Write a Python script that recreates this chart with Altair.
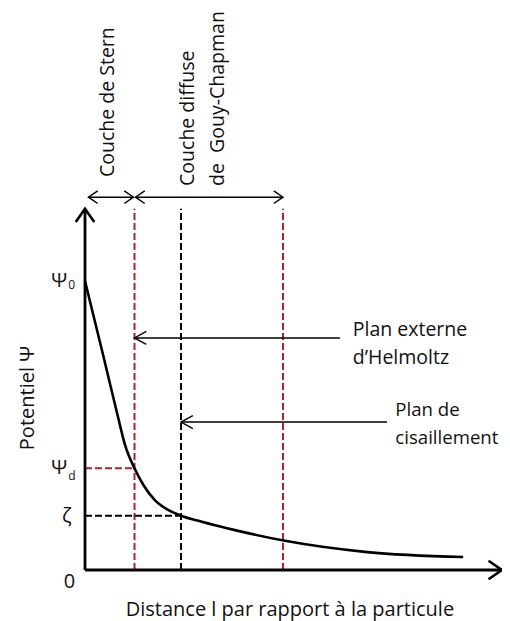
import altair as alt
import pandas as pd

# ---------------- data ----------------
# potential curve: distance (unit = Stern layer thickness), potential (Psi0 = 100)
curve_x = [0.0, 0.35, 0.673, 0.808, 1.0, 1.18, 1.41, 1.68, 1.94, 2.36, 3.03, 4.04, 5.70, 7.64]
curve_y = [100.0, 75.5, 52.5, 43.3, 35.2, 29.4, 24.2, 20.8, 18.8, 16.7, 13.8, 10.1, 6.2, 4.5]

# characteristic planes (distance) and levels (potential)
plane_names = ["Plan externe d'Helmoltz", "Plan de cisaillement", "Fin couche diffuse"]
plane_x = [1.0, 1.94, 4.0]
plane_kind = ["red", "black", "red"]
plane_top = 125.0

level_names = ["Ψd", "ζ"]
level_y = [35.2, 18.8]
level_x_end = [1.0, 1.94]
level_kind = ["red", "black"]

x_axis_end = 8.42
y_axis_end = 125.0

# layer dimension arrows at the top
layer_names = ["Couche de Stern", "Couche diffuse de Gouy-Chapman"]
layer_start = [0.07, 1.02]
layer_end = [0.98, 4.0]
layer_arrow_y = 129.0

# rotated layer labels
rot_text = ["Couche de Stern", "Couche diffuse", "de\u00a0 Gouy-Chapman"]
rot_x = [0.46, 2.09, 2.68]
rot_y = [136.0, 132.9, 132.9]

# annotation arrows pointing to the planes
ann_tip_x = [1.0, 1.94]
ann_tail_x = [5.15, 6.10]
ann_y = [80.3, 51.2]
ann_text_line1 = ["Plan externe", "Plan de"]
ann_text_line2 = ["d\u2019Helmoltz", "cisaillement"]
ann_text_x = [5.41, 6.27]
ann_line1_y = [83.0, 55.4]
ann_line2_y = [73.4, 45.7]
ann_size = [19.5, 18.6]

# y tick-like labels
ylab_main = ["Ψ", "Ψ", "ζ", "0"]
ylab_y = [100.0, 35.2, 18.8, -4.2]
ylab_x = [-0.36, -0.36, -0.27, -0.20]
ysub_text = ["0", "d"]
ysub_y = [98.6, 32.4]
ysub_x = [-0.34, -0.34]

x_title = "Distance l par rapport à la particule"
y_title = "Potentiel Ψ"

# ---------------- layout ----------------
W, H = 494, 613
PX_X, PX_Y = 49.5, 2.89          # pixels per data unit
ORIG_X, ORIG_Y = 77, 562         # origin inside plot area (px)
x0 = -ORIG_X / PX_X
x1 = x0 + W / PX_X
y1 = ORIG_Y / PX_Y
y0 = y1 - H / PX_Y

xs = alt.Scale(domain=[x0, x1], nice=False, zero=False)
ys = alt.Scale(domain=[y0, y1], nice=False, zero=False)
RED = "#b3202a"
FONT = "Open Sans"
FS = 20
FS_ROT = 19.5

def X(f="x"):
    return alt.X(f + ":Q", scale=xs, axis=None)

def Y(f="y"):
    return alt.Y(f + ":Q", scale=ys, axis=None)

color_scale = alt.Scale(domain=["red", "black"], range=[RED, "black"])

# ---------------- frames ----------------
curve_df = pd.DataFrame({"x": curve_x, "y": curve_y})
planes_df = pd.DataFrame({"x": plane_x, "y": [0.0] * 3, "y2": [plane_top] * 3,
                          "kind": plane_kind, "name": plane_names})
levels_df = pd.DataFrame({"x": [0.0, 0.0], "x2": level_x_end, "y": level_y,
                          "kind": level_kind, "name": level_names})
axes_df = pd.DataFrame({"x": [0.0, 0.0], "x2": [0.0, x_axis_end],
                        "y": [0.0, 0.0], "y2": [y_axis_end, 0.0]})
axis_heads_df = pd.DataFrame({"x": [x_axis_end, 0.0], "y": [0.0, y_axis_end],
                              "angle": [0, 270]})
layer_df = pd.DataFrame({"x": layer_start, "x2": layer_end,
                         "y": [layer_arrow_y] * 2, "name": layer_names})
layer_heads_df = pd.DataFrame({
    "x": layer_start + layer_end,
    "y": [layer_arrow_y] * 4,
    "angle": [180, 180, 0, 0]})
ann_df = pd.DataFrame({"x": ann_tip_x, "x2": ann_tail_x, "y": ann_y})
ann_heads_df = pd.DataFrame({"x": ann_tip_x, "y": ann_y, "angle": [180, 180]})
rot_df = pd.DataFrame({"x": rot_x, "y": rot_y, "t": rot_text})
ann_txt_df = pd.DataFrame({
    "x": ann_text_x + ann_text_x,
    "y": ann_line1_y + ann_line2_y,
    "t": ann_text_line1 + ann_text_line2,
    "fs": ann_size + ann_size})
ylab_df = pd.DataFrame({"x": ylab_x, "y": ylab_y, "t": ylab_main})
ysub_df = pd.DataFrame({"x": ysub_x, "y": ysub_y, "t": ysub_text})

HEAD = "M-1,-0.7L0,0L-1,0.7"

planes = alt.Chart(planes_df).mark_rule(strokeWidth=2, strokeDash=[7, 3]).encode(
    x=X(), y=Y(), y2="y2:Q",
    color=alt.Color("kind:N", scale=color_scale, legend=None))
levels = alt.Chart(levels_df).mark_rule(strokeWidth=2, strokeDash=[7, 3]).encode(
    x=X(), x2="x2:Q", y=Y(),
    color=alt.Color("kind:N", scale=color_scale, legend=None))
curve = alt.Chart(curve_df).mark_line(color="black", strokeWidth=2.6,
                                      interpolate="monotone").encode(x=X(), y=Y())
axes = alt.Chart(axes_df).mark_rule(color="black", strokeWidth=2.8).encode(
    x=X(), x2="x2:Q", y=Y(), y2="y2:Q")
axis_heads = alt.Chart(axis_heads_df).mark_point(
    shape=HEAD, filled=False, stroke="black", strokeWidth=2.6, size=700, opacity=1
).encode(x=X(), y=Y(), angle=alt.Angle("angle:Q", scale=None))
layers = alt.Chart(layer_df).mark_rule(color="black", strokeWidth=1.4).encode(
    x=X(), x2="x2:Q", y=Y())
layer_heads = alt.Chart(layer_heads_df).mark_point(
    shape="M-1,-0.68L0,0L-1,0.68", filled=False, stroke="black", strokeWidth=1.4,
    size=340, opacity=1
).encode(x=X(), y=Y(), angle=alt.Angle("angle:Q", scale=None))
anns = alt.Chart(ann_df).mark_rule(color="black", strokeWidth=1.4).encode(
    x=X(), x2="x2:Q", y=Y())
ann_heads = alt.Chart(ann_heads_df).mark_point(
    shape="M-1,-0.55L0,0L-1,0.55", filled=False, stroke="black", strokeWidth=1.4,
    size=560, opacity=1
).encode(x=X(), y=Y(), angle=alt.Angle("angle:Q", scale=None))

rot_txt = alt.Chart(rot_df).mark_text(
    angle=270, align="left", baseline="middle", font=FONT, fontSize=FS_ROT, color="#111"
).encode(x=X(), y=Y(), text="t:N")
ann_txt = alt.Chart(ann_txt_df).mark_text(
    align="left", baseline="middle", font=FONT, color="#111"
).encode(x=X(), y=Y(), text="t:N", size=alt.Size("fs:Q", scale=None))
ylab_txt = alt.Chart(ylab_df).mark_text(
    align="right", baseline="middle", font=FONT, fontSize=20, color="#111"
).encode(x=X(), y=Y(), text="t:N")
ysub_txt = alt.Chart(ysub_df).mark_text(
    align="left", baseline="middle", font=FONT, fontSize=12, color="#111"
).encode(x=X(), y=Y(), text="t:N")

titles_df = pd.DataFrame({"x": [4.14], "y": [-13.8], "t": [x_title]})
x_title_txt = alt.Chart(titles_df).mark_text(
    align="center", baseline="middle", font=FONT, fontSize=FS, color="#111"
).encode(x=X(), y=Y(), text="t:N")
ytitle_df = pd.DataFrame({"x": [-1.16], "y": [59.5], "t": [y_title]})
y_title_txt = alt.Chart(ytitle_df).mark_text(
    angle=270, align="center", baseline="middle", font=FONT, fontSize=FS, color="#111"
).encode(x=X(), y=Y(), text="t:N")

chart = alt.layer(
    planes, levels, curve, axes, axis_heads, layers, layer_heads, anns, ann_heads,
    rot_txt, ann_txt, ylab_txt, ysub_txt, x_title_txt, y_title_txt
).properties(
    width=W, height=H, padding=0,
    autosize=alt.AutoSizeParams(type="none"),
    background="white"
).configure_view(stroke=None)

chart.save("out.html", embed_options={"renderer": "svg", "actions": False})
